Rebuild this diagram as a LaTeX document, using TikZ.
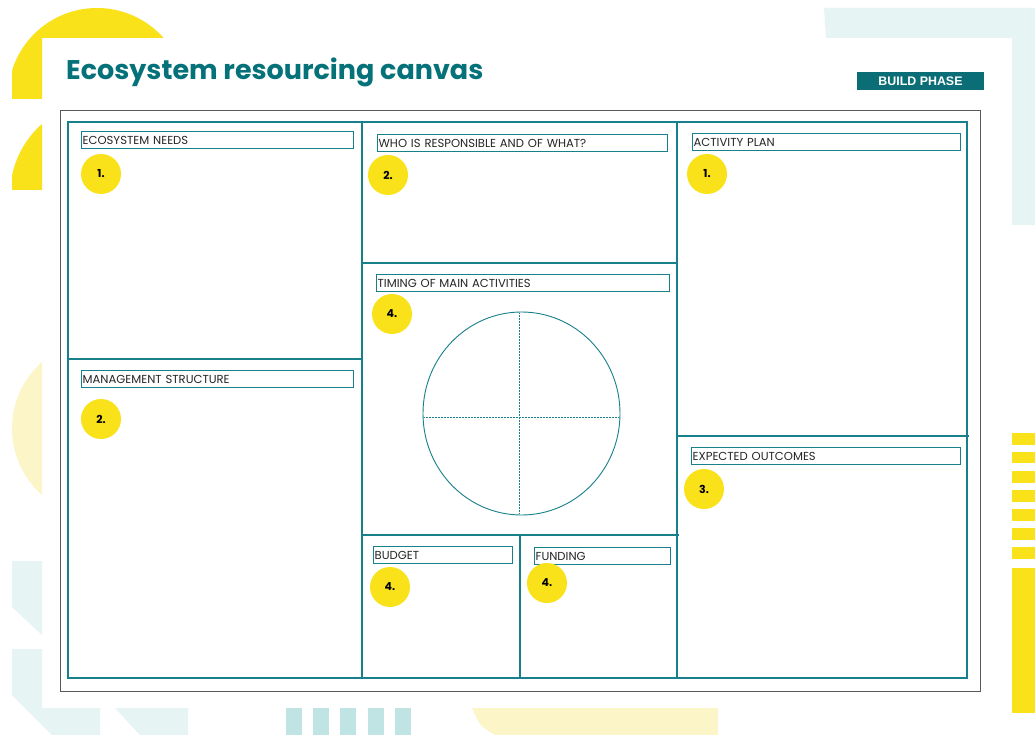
\documentclass[tikz,border=0pt]{standalone}
\usepackage{fontspec}
\setmainfont{Poppins}
\newfontfamily\arialfont{Liberation Sans}
\definecolor{tealline}{HTML}{17808A}
\definecolor{titleteal}{HTML}{05727A}
\definecolor{phaseteal}{HTML}{0B6E77}
\definecolor{yel}{HTML}{F9E219}
\definecolor{lyel}{HTML}{FCF5C7}
\definecolor{lteal}{HTML}{E6F4F4}
\definecolor{barteal}{HTML}{C0E3E4}
\tikzset{
  lbl/.style={draw=tealline, line width=1.3pt, anchor=north west, inner xsep=1pt, inner ysep=0pt,
    minimum height=17pt, align=left, font=\fontsize{11.6}{12}\selectfont, text=black!85},
  num/.style={circle, fill=yel, minimum size=40pt, inner sep=0pt, font=\bfseries\fontsize{11}{12}\selectfont},
  frame/.style={draw=tealline, line width=1.5pt},
}
\begin{document}
\begin{tikzpicture}[x=1pt,y=-1pt]
\useasboundingbox (0,0) rectangle (1035,735);
\fill[white] (0,0) rectangle (1035,735);
% decorations
\begin{scope}
\clip (12,0) -- (1035,0) -- (1035,38) -- (42,38) -- (42,99) -- (12,99) -- cycle;
\fill[yel] (97,97) circle[radius=89];
\end{scope}
\begin{scope}
\clip (12,100) rectangle (42,190);
\fill[yel] (105,195) circle[radius=95];
\end{scope}
\begin{scope}
\clip (12,300) rectangle (42,520);
\fill[lyel] (100.7,428.5) circle[radius=88.7];
\end{scope}
\fill[lteal] (12,561) -- (42,561) -- (42,635) -- (12,607) -- cycle;
\fill[lteal] (12,649) -- (42,649) -- (42,708) -- (100,708) -- (100,735) -- (52,735) -- (12,695) -- cycle;
\fill[lteal] (115,708) -- (188,708) -- (188,735) -- (140,735) -- cycle;
\foreach \bx in {286,313,340,368,395} \fill[barteal] (\bx,708) rectangle ++(16,27);
\fill[lyel] (472,708) -- (718,708) -- (718,735) -- (495,735) .. controls (480,726) .. (472,708) -- cycle;
\fill[lteal] (824,8) -- (1035,8) -- (1035,225) -- (1012,225) -- (1012,38) -- (826,38) -- cycle;
\foreach \ya/\yb in {433/445,452/463,471/483,490/502,509/521,528/540,547/559,568/713}
  \fill[yel] (1012,\ya) rectangle (1035,\yb);
% title
\node[anchor=west, inner sep=0pt, text=titleteal, font=\bfseries\fontsize{27}{29}\selectfont] (title) at (66,72) {Ecosystem resourcing canvas};
\node[fill=phaseteal, text=white, inner sep=0pt, minimum width=127pt, minimum height=18pt, font=\arialfont\bfseries\fontsize{12.4}{13}\selectfont] (phase) at (920.5,81) {BUILD PHASE};
% canvas
\draw[black!65, line width=1pt] (60,111) rectangle (980,691);
\draw[frame] (68,122) rectangle (967,678);
\draw[frame] (362,122) -- (362,678);
\draw[frame] (677,122) -- (677,678);
\draw[frame] (68,359) -- (362,359);
\draw[frame] (362,263) -- (677,263);
\draw[frame] (362,535) -- (679,535);
\draw[frame] (520,535) -- (520,678);
\draw[frame] (677,436) -- (969,436);
% labels
\node[lbl, text width=270pt] (l1) at (81,131) {ECOSYSTEM NEEDS};
\node[lbl, text width=288pt] (l2) at (377,134) {WHO IS RESPONSIBLE AND OF WHAT?};
\node[lbl, text width=266pt] (l3) at (692,133) {ACTIVITY PLAN};
\node[lbl, text width=291pt] (l4) at (376,274) {TIMING OF MAIN ACTIVITIES};
\node[lbl, text width=270pt] (l5) at (81,370) {MANAGEMENT STRUCTURE};
\node[lbl, text width=267pt] (l6) at (691,447) {EXPECTED OUTCOMES};
\node[lbl, text width=137pt] (l7) at (373,546) {BUDGET};
\node[lbl, text width=134pt] (l8) at (534,547) {FUNDING};
% numbers
\node[num] (n1) at (101,174) {1.};
\node[num] (n2) at (388,175) {2.};
\node[num] (n3) at (707,174) {1.};
\node[num] (n4) at (392,314) {4.};
\node[num] (n5) at (101,419) {2.};
\node[num] (n6) at (704,489) {3.};
\node[num] (n7) at (390,587) {4.};
\node[num] (n8) at (547,583) {4.};
% timing circle
\draw[tealline, line width=0.9pt] (521.5,413.5) ellipse[x radius=98.5, y radius=101.5];
\draw[tealline, line width=0.5pt, densely dotted] (519.5,313) -- (519.5,514);
\draw[tealline, line width=0.5pt, densely dotted] (424,417) -- (619,417);
\end{tikzpicture}
\end{document}
